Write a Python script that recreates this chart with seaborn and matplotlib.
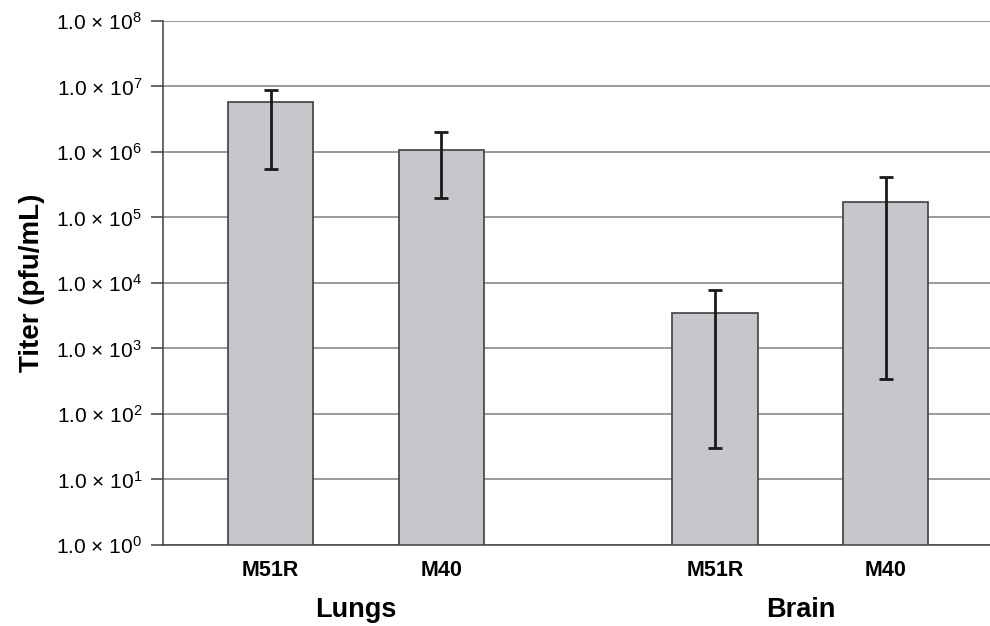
import numpy as np
import pandas as pd
import matplotlib
matplotlib.use("Agg")
import matplotlib.pyplot as plt
import seaborn as sns

# data
groups = ["Lungs", "Lungs", "Brain", "Brain"]
viruses = ["M51R", "M40", "M51R", "M40"]
positions = [0.0, 1.0, 2.6, 3.6]
titer = [5.7e6, 1.07e6, 3.5e3, 1.7e5]
err_low = [5.5e5, 2.0e5, 30, 340]
err_high = [8.7e6, 2.0e6, 7.8e3, 4.1e5]
ytick_exp = list(range(0, 9))

df = pd.DataFrame({"pos": positions, "titer": titer, "virus": viruses, "group": groups})

sns.set_style("white")
plt.rcParams["font.family"] = ["Liberation Sans", "DejaVu Sans"]
plt.rcParams["mathtext.fontset"] = "custom"
plt.rcParams["mathtext.rm"] = "Liberation Sans"
plt.rcParams["mathtext.default"] = "regular"
plt.rcParams["text.color"] = "black"
plt.rcParams["xtick.color"] = "black"
plt.rcParams["ytick.color"] = "black"
plt.rcParams["axes.labelcolor"] = "black"

fig = plt.figure(figsize=(9.9, 6.26), dpi=100)
ax = fig.add_axes([0.1646, 0.1294, 0.8354, 0.8371])

sns.barplot(data=df, x="pos", y="titer", native_scale=True, width=0.5,
            color="#c6c7cb", edgecolor="#404040", linewidth=1.2,
            saturation=1, errorbar=None, ax=ax, zorder=2)
ax.set_yscale("log")

# asymmetric error bars
t = np.array(titer)
yerr = np.vstack([t - np.array(err_low), np.array(err_high) - t])
ax.errorbar(positions, t, yerr=yerr, fmt="none", ecolor="#1a1a1a",
            elinewidth=2, capsize=5, capthick=2, zorder=3)

ax.set_ylim(1, 1e8)
ax.set_xlim(-0.63, 4.21)
ax.set_yticks([10.0 ** e for e in ytick_exp])
ax.set_yticklabels(["1.0 \u00d7 10$^{%d}$" % e for e in ytick_exp], fontsize=15)
ax.minorticks_off()
ax.yaxis.grid(True, color="#808080", linewidth=1.1, zorder=0)
ax.set_axisbelow(True)

ax.set_xticks(positions)
ax.set_xticklabels(viruses, fontsize=15.5, fontweight="bold")
ax.tick_params(axis="x", length=0, pad=11)
ax.tick_params(axis="y", length=9, width=1.1, color="#404040", labelcolor="black", pad=6, left=True)

for s in ["top", "right"]:
    ax.spines[s].set_visible(False)
ax.spines["left"].set_color("#404040")
ax.spines["bottom"].set_color("#404040")
ax.spines["left"].set_linewidth(1.1)
ax.spines["bottom"].set_linewidth(1.1)

ax.set_xlabel("")
ax.set_ylabel("Titer (pfu/mL)", fontsize=20, fontweight="bold", labelpad=8)

# group labels under each pair
for g in ["Lungs", "Brain"]:
    xs = [p for p, gg in zip(positions, groups) if gg == g]
    ax.text(np.mean(xs), -0.125, g, transform=ax.get_xaxis_transform(),
            ha="center", va="center", fontsize=19.5, fontweight="bold")

fig.savefig("out.png", dpi=100)
